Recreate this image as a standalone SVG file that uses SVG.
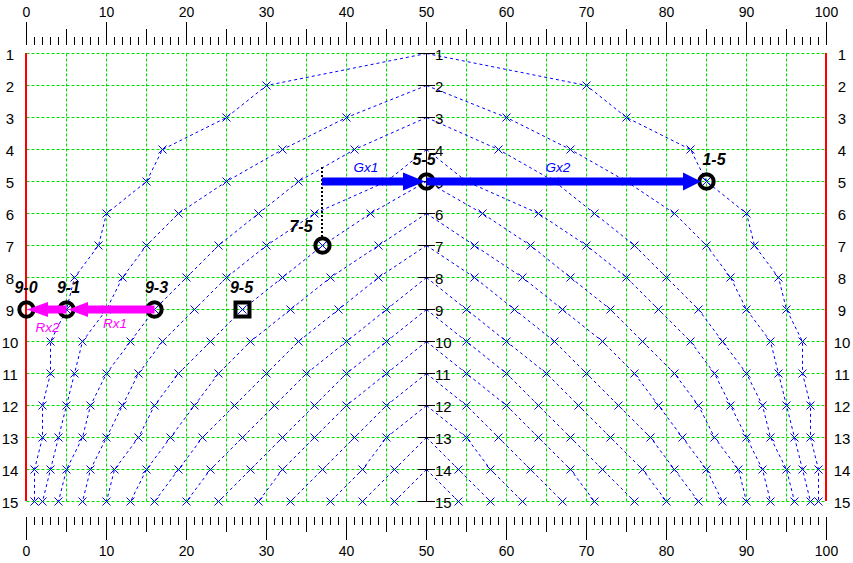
<svg xmlns="http://www.w3.org/2000/svg" xmlns:xlink="http://www.w3.org/1999/xlink" width="853" height="563" viewBox="0 0 853 563">
<style>
text{font-family:"Liberation Sans",Arial,sans-serif;fill:#000}
.num{font-size:14px;text-anchor:middle}
.rowl{font-size:15px;text-anchor:middle}
.axl{font-size:15px}
.grid{stroke:#00e000;stroke-width:1;stroke-dasharray:3 2;fill:none}
.crv{stroke:#0000ff;stroke-width:1;stroke-dasharray:3 3;fill:none;marker-mid:url(#xm);marker-end:url(#xm)}
.node{fill:none;stroke:#000;stroke-width:4}
.lbl{font-size:16px;font-weight:bold;font-style:italic;text-anchor:middle}
.gl{fill:#0000ff;font-size:13.5px;font-style:italic;text-anchor:middle}
.rl{fill:#ff00ff;font-size:13.5px;font-style:italic;text-anchor:middle}
.garr{fill:#0000ff}
.rarr{fill:#ff00ff}
</style>
<defs>
<marker id="xm" markerUnits="userSpaceOnUse" markerWidth="10" markerHeight="10" refX="5" refY="5" orient="0" overflow="visible">
<path d="M1,1L9,9M9,1L1,9" stroke="#0000ff" stroke-width="1" fill="none" stroke-dasharray="none"/>
</marker>
<pattern id="t8" patternUnits="userSpaceOnUse" x="26" y="0" width="8" height="600"><rect width="1" height="600" fill="#000"/></pattern>
<pattern id="t40" patternUnits="userSpaceOnUse" x="26" y="0" width="40" height="600"><rect width="1" height="600" fill="#000"/></pattern>
<pattern id="t80" patternUnits="userSpaceOnUse" x="26" y="0" width="80" height="600"><rect width="1" height="600" fill="#000"/></pattern>
</defs>
<rect width="853" height="563" fill="#fff"/>

<g id="axes">
<rect x="26" y="37" width="801" height="8" fill="url(#t8)"/>
<rect x="26" y="29" width="801" height="16" fill="url(#t40)"/>
<rect x="26" y="22" width="801" height="23" fill="url(#t80)"/>
<rect x="26" y="517" width="801" height="8" fill="url(#t8)"/>
<rect x="26" y="517" width="801" height="15" fill="url(#t40)"/>
<rect x="26" y="517" width="801" height="23" fill="url(#t80)"/>
<text class="num"><tspan x="26.5" y="17">0</tspan><tspan x="106.5" y="17">10</tspan><tspan x="186.5" y="17">20</tspan><tspan x="266.5" y="17">30</tspan><tspan x="346.5" y="17">40</tspan><tspan x="426.5" y="17">50</tspan><tspan x="506.5" y="17">60</tspan><tspan x="586.5" y="17">70</tspan><tspan x="666.5" y="17">80</tspan><tspan x="746.5" y="17">90</tspan><tspan x="826.5" y="17">100</tspan></text>
<text class="num"><tspan x="26.5" y="556">0</tspan><tspan x="106.5" y="556">10</tspan><tspan x="186.5" y="556">20</tspan><tspan x="266.5" y="556">30</tspan><tspan x="346.5" y="556">40</tspan><tspan x="426.5" y="556">50</tspan><tspan x="506.5" y="556">60</tspan><tspan x="586.5" y="556">70</tspan><tspan x="666.5" y="556">80</tspan><tspan x="746.5" y="556">90</tspan><tspan x="826.5" y="556">100</tspan></text>
<text class="rowl"><tspan x="10" y="59.5">1</tspan><tspan x="10" y="91.5">2</tspan><tspan x="10" y="123.5">3</tspan><tspan x="10" y="155.5">4</tspan><tspan x="10" y="187.5">5</tspan><tspan x="10" y="219.5">6</tspan><tspan x="10" y="251.5">7</tspan><tspan x="10" y="283.5">8</tspan><tspan x="10" y="315.5">9</tspan><tspan x="10" y="347.5">10</tspan><tspan x="10" y="379.5">11</tspan><tspan x="10" y="411.5">12</tspan><tspan x="10" y="443.5">13</tspan><tspan x="10" y="475.5">14</tspan><tspan x="10" y="507.5">15</tspan></text>
<text class="rowl"><tspan x="842" y="59.5">1</tspan><tspan x="842" y="91.5">2</tspan><tspan x="842" y="123.5">3</tspan><tspan x="842" y="155.5">4</tspan><tspan x="842" y="187.5">5</tspan><tspan x="842" y="219.5">6</tspan><tspan x="842" y="251.5">7</tspan><tspan x="842" y="283.5">8</tspan><tspan x="842" y="315.5">9</tspan><tspan x="842" y="347.5">10</tspan><tspan x="842" y="379.5">11</tspan><tspan x="842" y="411.5">12</tspan><tspan x="842" y="443.5">13</tspan><tspan x="842" y="475.5">14</tspan><tspan x="842" y="507.5">15</tspan></text>
</g>

<g id="grid">
<path class="grid" d="M26.5,53.5H826.5M26.5,85.5H826.5M26.5,117.5H826.5M26.5,149.5H826.5M26.5,181.5H826.5M26.5,213.5H826.5M26.5,245.5H826.5M26.5,277.5H826.5M26.5,309.5H826.5M26.5,341.5H826.5M26.5,373.5H826.5M26.5,405.5H826.5M26.5,437.5H826.5M26.5,469.5H826.5M26.5,501.5H826.5"/>
<path class="grid" d="M66.5,53.5V501.5M106.5,53.5V501.5M146.5,53.5V501.5M186.5,53.5V501.5M226.5,53.5V501.5M266.5,53.5V501.5M306.5,53.5V501.5M346.5,53.5V501.5M386.5,53.5V501.5M466.5,53.5V501.5M506.5,53.5V501.5M546.5,53.5V501.5M586.5,53.5V501.5M626.5,53.5V501.5M666.5,53.5V501.5M706.5,53.5V501.5M746.5,53.5V501.5M786.5,53.5V501.5"/>
<path d="M26,53V501M826,53V501" stroke="#ff0000" stroke-width="2" fill="none"/>
</g>

<g id="curves">
<g id="curvesL">
<polyline class="crv" points="426.5,53.5 266.5,85.5 226.5,117.5 162.5,149.5 146.5,181.5 106.5,213.5 98.5,245.5 74.5,277.5 66.5,309.5 50.5,341.5 50.5,373.5 42.5,405.5 42.5,437.5 34.5,469.5 34.5,501.5"/>
<polyline class="crv" points="426.5,85.5 346.5,117.5 282.5,149.5 226.5,181.5 178.5,213.5 146.5,245.5 122.5,277.5 106.5,309.5 82.5,341.5 74.5,373.5 66.5,405.5 58.5,437.5 50.5,469.5 42.5,501.5"/>
<polyline class="crv" points="426.5,117.5 354.5,149.5 298.5,181.5 258.5,213.5 218.5,245.5 186.5,277.5 154.5,309.5 130.5,341.5 106.5,373.5 90.5,405.5 82.5,437.5 66.5,469.5 58.5,501.5"/>
<polyline class="crv" points="426.5,149.5 386.5,181.5 314.5,213.5 266.5,245.5 226.5,277.5 194.5,309.5 162.5,341.5 138.5,373.5 122.5,405.5 106.5,437.5 90.5,469.5 82.5,501.5"/>
<polyline class="crv" points="426.5,181.5 370.5,213.5 322.5,245.5 282.5,277.5 242.5,309.5 210.5,341.5 178.5,373.5 154.5,405.5 138.5,437.5 114.5,469.5 106.5,501.5"/>
<polyline class="crv" points="426.5,213.5 378.5,245.5 330.5,277.5 290.5,309.5 250.5,341.5 218.5,373.5 194.5,405.5 170.5,437.5 146.5,469.5 130.5,501.5"/>
<polyline class="crv" points="426.5,245.5 378.5,277.5 338.5,309.5 298.5,341.5 266.5,373.5 234.5,405.5 202.5,437.5 178.5,469.5 154.5,501.5"/>
<polyline class="crv" points="426.5,277.5 386.5,309.5 346.5,341.5 306.5,373.5 274.5,405.5 242.5,437.5 210.5,469.5 186.5,501.5"/>
<polyline class="crv" points="426.5,309.5 386.5,341.5 346.5,373.5 314.5,405.5 282.5,437.5 250.5,469.5 218.5,501.5"/>
<polyline class="crv" points="426.5,341.5 386.5,373.5 346.5,405.5 314.5,437.5 282.5,469.5 258.5,501.5"/>
<polyline class="crv" points="426.5,373.5 386.5,405.5 354.5,437.5 322.5,469.5 290.5,501.5"/>
<polyline class="crv" points="426.5,405.5 386.5,437.5 362.5,469.5 330.5,501.5"/>
<polyline class="crv" points="426.5,437.5 394.5,469.5 362.5,501.5"/>
<polyline class="crv" points="426.5,469.5 394.5,501.5"/>
</g>
<use xlink:href="#curvesL" href="#curvesL" transform="matrix(-1 0 0 1 853 0)"/>
</g>

<g id="center-axis">
<path d="M426.5,53.5V501.5M418,53.5H435M418,85.5H435M418,117.5H435M418,149.5H435M418,181.5H435M418,213.5H435M418,245.5H435M418,277.5H435M418,309.5H435M418,341.5H435M418,373.5H435M418,405.5H435M418,437.5H435M418,469.5H435M418,501.5H435" stroke="#000" stroke-width="1" fill="none"/>
<text class="axl"><tspan x="435" y="59.5">1</tspan><tspan x="435" y="91.5">2</tspan><tspan x="435" y="123.5">3</tspan><tspan x="435" y="155.5">4</tspan><tspan x="435" y="187.5">5</tspan><tspan x="435" y="219.5">6</tspan><tspan x="435" y="251.5">7</tspan><tspan x="435" y="283.5">8</tspan><tspan x="435" y="315.5">9</tspan><tspan x="435" y="347.5">10</tspan><tspan x="435" y="379.5">11</tspan><tspan x="435" y="411.5">12</tspan><tspan x="435" y="443.5">13</tspan><tspan x="435" y="475.5">14</tspan><tspan x="435" y="507.5">15</tspan></text>
</g>

<g id="node-5-5"><circle class="node" cx="426.5" cy="181.5" r="7.2"/><text class="lbl" x="424" y="165">5-5</text></g>
<g id="node-1-5"><circle class="node" cx="706.5" cy="181.5" r="7.2"/><text class="lbl" x="714" y="165">1-5</text></g>
<g id="node-7-5"><circle class="node" cx="322.5" cy="245.5" r="7.2"/><text class="lbl" x="301" y="232">7-5</text></g>
<g id="node-9-0"><circle class="node" cx="26.5" cy="309.5" r="7.2"/><text class="lbl" x="26" y="293">9-0</text></g>
<g id="node-9-1"><circle class="node" cx="66.5" cy="309.5" r="7.2"/><text class="lbl" x="68.5" y="293">9-1</text></g>
<g id="node-9-3"><circle class="node" cx="154.5" cy="309.5" r="7.2"/><text class="lbl" x="156.5" y="293">9-3</text></g>
<g id="node-9-5"><rect class="node" x="235.5" y="302.5" width="14" height="14"/><text class="lbl" x="241.5" y="293">9-5</text></g>

<g id="connectors">
<path d="M322,167V237" stroke="#000" stroke-width="2" stroke-dasharray="2 2" fill="none"/>
<g id="Gx1"><rect class="garr" x="322" y="177.5" width="82" height="8"/><polygon class="garr" points="403,172.5 425,181.5 403,190.5"/><text class="gl" x="366" y="172">Gx1</text></g>
<g id="Gx2"><rect class="garr" x="426.5" y="177.5" width="257" height="8"/><polygon class="garr" points="683,172.5 701,181.5 683,190.5"/><text class="gl" x="558" y="172">Gx2</text></g>
<g id="Rx1"><rect class="rarr" x="87" y="305.5" width="67.5" height="8"/><polygon class="rarr" points="88,302 68,309.5 88,317"/><text class="rl" x="115" y="328">Rx1</text></g>
<g id="Rx2"><rect class="rarr" x="47" y="305.5" width="19.5" height="8"/><polygon class="rarr" points="48,302 27,309.5 48,317"/><text class="rl" x="47.5" y="332">Rx2</text></g>
</g>
</svg>
